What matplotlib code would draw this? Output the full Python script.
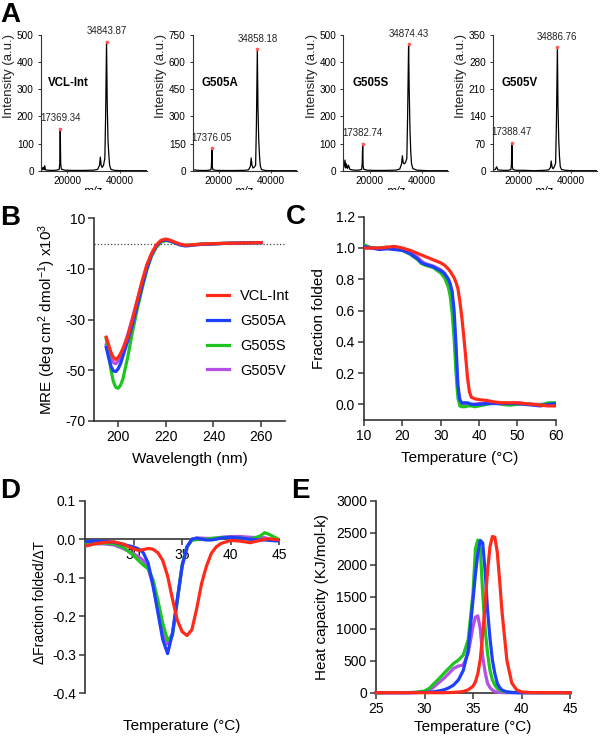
import numpy as np
import matplotlib.pyplot as plt
from matplotlib.transforms import Bbox, TransformedBbox

plt.rcParams['font.family'] = ['Liberation Sans', 'DejaVu Sans']
plt.rcParams['mathtext.fontset'] = 'custom'
plt.rcParams['mathtext.rm'] = 'Liberation Sans'
plt.rcParams['mathtext.it'] = 'Liberation Sans:italic'
plt.rcParams['mathtext.bf'] = 'Liberation Sans:bold'
plt.rcParams['axes.unicode_minus'] = False

# ---- A: mass spectra ----
names = ['VCL-Int', 'G505A', 'G505S', 'G505V']
ymax_A = [500, 750, 500, 350]
ystep_A = [100, 150, 100, 70]

mz_vcl = [10000, 10300, 10500, 10700, 11000, 11300, 11500, 11800, 12500, 14000, 16000, 17000, 17200, 17369,
          17550, 17800, 19000, 22000, 26000, 30000, 31500, 32200, 32500, 32800, 33200, 33700, 34200, 34500,
          34843, 35100, 35400, 35700, 36000, 36500, 38000, 42000, 46000, 50000]
int_vcl = [5, 15, 3, 8, 12, 4, 18, 3, 2, 1, 2, 5, 30, 155, 25, 6, 2, 1, 1, 2, 5, 20, 50, 20, 12, 20, 45, 200,
           475, 250, 110, 60, 20, 5, 1, 0, 0, 0]
mz_a = [10000, 10500, 11000, 11500, 12500, 14000, 16000, 17000, 17200, 17376, 17550, 17800, 19000, 22000,
        26000, 30000, 31500, 32200, 32500, 32800, 33200, 33700, 34200, 34500, 34858, 35100, 35400, 35700,
        36000, 36500, 38000, 42000, 46000, 50000]
int_a = [6, 3, 5, 2, 2, 1, 2, 5, 25, 123, 20, 5, 2, 1, 1, 2, 5, 25, 70, 30, 15, 20, 30, 250, 669, 350, 170,
         80, 25, 6, 1, 0, 0, 0]
mz_s = [10000, 10300, 10640, 10900, 11200, 11600, 12000, 12500, 14000, 16000, 17000, 17200, 17382, 17550,
        17800, 19000, 22000, 26000, 30000, 31500, 32200, 32500, 32800, 33200, 33700, 34200, 34500, 34874,
        35100, 35400, 35700, 36000, 36500, 38000, 42000, 46000, 50000]
int_s = [8, 15, 39, 10, 25, 8, 20, 5, 2, 2, 5, 25, 100, 18, 5, 2, 1, 1, 2, 6, 25, 55, 30, 25, 30, 45, 200, 465,
         300, 150, 70, 25, 8, 2, 0, 0, 0]
mz_v = [10000, 11000, 11500, 12000, 14000, 16000, 17000, 17200, 17388, 17550, 17800, 19000, 22000, 26000,
        30000, 31500, 32200, 32500, 32800, 33200, 33700, 34200, 34500, 34886, 35100, 35400, 35700, 36000,
        36500, 38000, 42000, 46000, 50000]
int_v = [2, 3, 10, 2, 1, 1, 3, 15, 72, 12, 3, 1, 1, 0, 1, 2, 8, 25, 10, 5, 10, 20, 120, 318, 170, 80, 35, 10,
         3, 1, 0, 0, 0]
peak_mz = [[17369.34, 34843.87], [17376.05, 34858.18], [17382.74, 34874.43], [17388.47, 34886.76]]
peak_int = [[155, 475], [123, 669], [100, 465], [72, 318]]
spectra = [(mz_vcl, int_vcl), (mz_a, int_a), (mz_s, int_s), (mz_v, int_v)]

# ---- B: CD spectra ----
wl = [195, 196, 197, 198, 199, 200, 201, 202, 204, 206, 208, 210, 212, 214, 216, 218, 220, 222, 224, 226,
      228, 230, 232, 235, 240, 245, 250, 255, 260]
mre_vcl = [-37, -40, -43, -45, -45.8, -45, -43.5, -41.5, -37, -30, -22.5, -15, -8.5, -4, -0.5, 1.3, 1.8, 1.3,
           0.5, -0.2, -0.6, -0.6, -0.4, -0.2, 0, 0.1, 0.2, 0.3, 0.4]
mre_a = [-41, -45, -48.5, -50.3, -50.6, -49.5, -47.5, -44.5, -38.5, -32, -24.5, -17, -10, -4.5, -1, 1, 1.4, 1,
         0.2, -0.5, -0.9, -0.8, -0.5, -0.3, -0.1, 0.1, 0.2, 0.3, 0.4]
mre_s = [-37.5, -44, -50, -54.5, -56.8, -57.2, -56, -53.5, -45, -35, -26, -18, -10.5, -5, -1.5, 0.6, 1.2, 0.9,
         0.2, -0.4, -0.7, -0.6, -0.4, -0.2, 0, 0.1, 0.2, 0.3, 0.4]
mre_v = [-40, -43, -45.5, -47, -47.5, -46.5, -44.5, -42, -36, -29.5, -22.5, -15.5, -9, -4, -0.8, 1.1, 1.5,
         1.1, 0.3, -0.4, -0.8, -0.7, -0.5, -0.3, -0.1, 0.1, 0.2, 0.3, 0.4]

# ---- C: thermal melt ----
temp_c = [10, 12, 14, 16, 18, 20, 22, 24, 25, 26, 28, 30, 31, 32, 32.5, 33, 33.5, 34, 34.5, 35, 35.5, 36,
          36.5, 37, 37.5, 38, 39, 40, 42, 44, 46, 48, 50, 52, 54, 56, 58, 60]
ff_vcl = [1.0, 1.0, 1.0, 1.005, 1.01, 1.0, 0.985, 0.965, 0.955, 0.945, 0.925, 0.905, 0.89, 0.865, 0.85, 0.83,
          0.81, 0.78, 0.74, 0.66, 0.56, 0.44, 0.31, 0.17, 0.08, 0.045, 0.035, 0.03, 0.025, 0.015, 0.01, 0.01,
          0.01, 0.005, 0.0, -0.005, -0.01, -0.01]
ff_a = [1.01, 1.0, 0.99, 0.995, 0.99, 0.985, 0.965, 0.93, 0.905, 0.895, 0.88, 0.855, 0.835, 0.8, 0.77, 0.72,
        0.6, 0.38, 0.12, 0.03, 0.01, 0.01, 0.01, 0.01, 0.005, 0.0, 0.0, 0.0, 0.005, 0.005, 0.005, 0.005, 0.005,
        0.0, -0.005, -0.01, 0.0, 0.005]
ff_s = [1.02, 1.0, 1.0, 1.005, 0.995, 0.985, 0.96, 0.925, 0.9, 0.89, 0.875, 0.84, 0.81, 0.75, 0.69, 0.58,
        0.42, 0.2, 0.04, -0.01, -0.015, -0.015, -0.015, -0.01, -0.01, -0.01, -0.015, -0.01, 0.0, 0.01, 0.0,
        -0.005, 0.0, 0.005, 0.0, -0.005, 0.01, 0.01]
ff_v = [1.0, 1.0, 0.995, 1.0, 0.995, 0.985, 0.975, 0.94, 0.915, 0.9, 0.885, 0.86, 0.84, 0.8, 0.76, 0.68,
        0.52, 0.3, 0.08, 0.01, 0.0, 0.0, 0.005, 0.005, 0.005, 0.0, 0.0, 0.005, 0.005, 0.01, 0.01, 0.005, 0.01,
        0.005, 0.0, 0.0, 0.0, 0.0]

# ---- D: derivative ----
temp_d = [25, 26, 27, 28, 29, 29.5, 30, 30.5, 31, 31.5, 32, 32.5, 33, 33.5, 34, 34.5, 35, 35.5, 36, 36.5,
          37, 37.5, 38, 38.5, 39, 40, 41, 42, 43, 43.5, 44, 45]
d_vcl = [-0.018, -0.012, -0.008, -0.007, -0.013, -0.02, -0.025, -0.029, -0.027, -0.024, -0.026, -0.035,
         -0.055, -0.095, -0.155, -0.21, -0.24, -0.25, -0.235, -0.18, -0.115, -0.07, -0.037, -0.02, -0.011,
         -0.003, -0.005, -0.009, -0.003, 0.0, 0.001, -0.002]
d_a = [-0.006, -0.005, -0.005, -0.008, -0.014, -0.017, -0.02, -0.025, -0.035, -0.062, -0.12, -0.19, -0.26,
       -0.297, -0.245, -0.155, -0.07, -0.02, 0.0, 0.003, 0.0, -0.002, -0.002, 0.0, 0.003, 0.005, 0.003, 0.0,
       -0.002, -0.002, -0.003, -0.005]
d_s = [-0.01, -0.01, -0.01, -0.012, -0.022, -0.032, -0.042, -0.055, -0.067, -0.077, -0.105, -0.158, -0.218,
       -0.262, -0.25, -0.16, -0.065, -0.02, -0.003, -0.001, 0.0, 0.0, 0.002, 0.003, 0.004, 0.005, 0.003, 0.0,
       0.008, 0.017, 0.012, -0.001]
d_v = [-0.012, -0.012, -0.012, -0.015, -0.025, -0.032, -0.038, -0.045, -0.055, -0.075, -0.12, -0.18, -0.24,
       -0.272, -0.245, -0.16, -0.07, -0.02, 0.0, 0.003, 0.003, 0.002, 0.002, 0.003, 0.005, 0.007, 0.007, 0.005,
       0.004, 0.004, 0.0, -0.003]

# ---- E: heat capacity ----
temp_e = [25, 28, 29, 30, 30.5, 31, 31.5, 32, 32.5, 33, 33.5, 34, 34.5, 35, 35.25, 35.5, 35.75, 36, 36.25,
          36.5, 36.75, 37, 37.25, 37.5, 37.75, 38, 38.5, 39, 39.5, 40, 41, 45]
cp_vcl = [0, 0, 0, 0, 0, 0, 0, 0, 2, 5, 10, 20, 45, 100, 170, 300, 520, 900, 1400, 1900, 2280, 2440, 2430,
          2200, 1750, 1250, 500, 150, 45, 12, 2, 0]
cp_a = [0, 0, 2, 5, 8, 16, 28, 45, 75, 120, 200, 350, 660, 1450, 1850, 2180, 2380, 2340, 1900, 1290, 850, 510,
        300, 150, 80, 40, 12, 4, 1, 0, 0, 0]
cp_s = [0, 2, 5, 26, 70, 146, 220, 302, 380, 458, 510, 589, 823, 1552, 2250, 2385, 2250, 1552, 1000, 615, 350,
        198, 120, 68, 40, 25, 10, 5, 3, 2, 0, 0]
cp_v = [0, 0, 2, 10, 40, 94, 160, 224, 300, 380, 417, 432, 615, 1031, 1180, 1200, 1000, 563, 320, 146, 80, 42,
        20, 10, 5, 2, 0, 0, 0, 0, 0, 0]

colors = {'VCL-Int': '#ff2a1a', 'G505A': '#1f3fff', 'G505S': '#1fc41f', 'G505V': '#b44fe8'}
draw_order = ['G505V', 'G505S', 'G505A', 'VCL-Int']

W, H = 600, 738
fig = plt.figure(figsize=(6, 7.38), dpi=100, facecolor='white')


def box(l, t, r, b):
    return [l / W, 1 - b / H, (r - l) / W, (b - t) / H]


def style(ax, lw=1.2, tl=4, fs=10):
    for s in ['top', 'right']:
        ax.spines[s].set_visible(False)
    for s in ['left', 'bottom']:
        ax.spines[s].set_linewidth(lw)
        ax.spines[s].set_color('#333333')
    ax.tick_params(direction='out', length=tl, width=lw * 0.9, color='#333333', labelsize=fs, pad=2.5)


# panel A
a_boxes = [(40.7, 34.7, 146.7, 170.7), (192.7, 34.7, 296.7, 170.7),
           (343.3, 34.7, 448.3, 170.7), (492.7, 34.7, 596.7, 170.7)]
for i in range(4):
    ax = fig.add_axes(box(*a_boxes[i]))
    mz, inten = spectra[i]
    ax.plot(mz, inten, color='black', lw=0.9)
    for m, h in zip(peak_mz[i], peak_int[i]):
        ax.plot(m, h, 'o', ms=2.6, color='#ff5a5a', mec='none', zorder=4, clip_on=False)
        ax.annotate(f'{m:.2f}', (m, h), xytext=(0, 4), textcoords='offset points', ha='center',
                    va='bottom', fontsize=7, color='#222222', annotation_clip=False)
    ax.set_xlim(10000, 50000)
    ax.set_ylim(0, ymax_A[i])
    ax.set_xticks([20000, 40000])
    ax.set_yticks(np.arange(0, ymax_A[i] + 1, ystep_A[i]))
    style(ax, lw=0.8, tl=2.5, fs=7.2)
    ax.tick_params(axis='x', length=1.5)
    ax.set_ylabel('Intensity (a.u.)', fontsize=9.5, color='#222222')
    ax.yaxis.set_label_coords(-0.245, 0.70)
    ax.text(0.26, 0.643, names[i], transform=ax.transAxes, ha='center', va='center',
            fontsize=8.3, fontweight='bold')
    cx = (a_boxes[i][0] + a_boxes[i][2]) / 2
    t = fig.text(cx / W, 1 - 186.0 / H, 'm/z', style='italic', ha='center', va='top', fontsize=8.5)
    t.set_clip_box(TransformedBbox(Bbox([[0, 1 - 190.0 / H], [1, 1]]), fig.transFigure))
    t.set_clip_on(True)

# panel B
axB = fig.add_axes(box(94.3, 218.3, 285, 420.7))
mre = {'VCL-Int': mre_vcl, 'G505A': mre_a, 'G505S': mre_s, 'G505V': mre_v}
handles = {}
axB.axhline(0, ls=':', color='#444444', lw=0.9, zorder=1)
for n in draw_order:
    handles[n], = axB.plot(wl, mre[n], color=colors[n], lw=2.3, label=n, zorder=3)
axB.set_xlim(190, 270)
axB.set_ylim(-70, 10)
axB.set_xticks([200, 220, 240, 260])
axB.set_yticks([10, -10, -30, -50, -70])
style(axB)
axB.set_xlabel('Wavelength (nm)', fontsize=11, labelpad=6)
axB.set_ylabel('MRE (deg cm$^2$ dmol$^{-1}$) x10$^3$', fontsize=11)
axB.yaxis.set_label_coords(-0.19, 0.5)
axB.legend([handles[n] for n in names], names, loc='upper left', bbox_to_anchor=(0.59, 0.65),
           frameon=False, fontsize=10.5, handlelength=1.55, handletextpad=0.75, labelspacing=0.74,
           borderpad=0, borderaxespad=0)

# panel C
axC = fig.add_axes(box(364, 216.7, 555.7, 420))
ff = {'VCL-Int': ff_vcl, 'G505A': ff_a, 'G505S': ff_s, 'G505V': ff_v}
for n in draw_order:
    axC.plot(temp_c, ff[n], color=colors[n], lw=2.3, zorder=3)
axC.set_xlim(10, 60)
axC.set_ylim(-0.1, 1.2)
axC.set_xticks([10, 20, 30, 40, 50, 60])
axC.set_yticks([0.0, 0.2, 0.4, 0.6, 0.8, 1.0, 1.2])
axC.yaxis.set_major_formatter(plt.FormatStrFormatter('%.1f'))
style(axC)
axC.set_xlabel('Temperature (°C)', fontsize=11, labelpad=6)
axC.set_ylabel('Fraction folded', fontsize=11)
axC.yaxis.set_label_coords(-0.2, 0.5)

# panel D
axD = fig.add_axes(box(85, 500.7, 279.3, 693.3))
dd = {'VCL-Int': d_vcl, 'G505A': d_a, 'G505S': d_s, 'G505V': d_v}
for n in draw_order:
    axD.plot(temp_d, dd[n], color=colors[n], lw=2.3, zorder=3)
axD.set_xlim(25, 45)
axD.set_ylim(-0.4, 0.1)
axD.set_xticks([30, 35, 40, 45])
axD.set_yticks([0.1, 0.0, -0.1, -0.2, -0.3, -0.4])
axD.yaxis.set_major_formatter(plt.FormatStrFormatter('%.1f'))
style(axD)
axD.spines['bottom'].set_position(('data', 0))
axD.set_xlabel('Temperature (°C)', fontsize=11)
axD.xaxis.set_label_coords(0.5, -0.135)
axD.set_ylabel('ΔFraction folded/ΔT', fontsize=10)
axD.yaxis.set_label_coords(-0.197, 0.47)

# panel E
axE = fig.add_axes(box(376, 500.7, 570, 692.7))
cp = {'VCL-Int': cp_vcl, 'G505A': cp_a, 'G505S': cp_s, 'G505V': cp_v}
for n in draw_order:
    axE.plot(temp_e, cp[n], color=colors[n], lw=2.3, zorder=3, clip_on=False)
axE.set_xlim(25, 45)
axE.set_ylim(0, 3000)
axE.set_xticks([25, 30, 35, 40, 45])
axE.set_yticks(np.arange(0, 3001, 500))
style(axE)
axE.set_xlabel('Temperature (°C)', fontsize=11, labelpad=3)
axE.set_ylabel('Heat capacity (KJ/mol-k)', fontsize=11)
axE.yaxis.set_label_coords(-0.241, 0.5)

# panel letters
for lab, x, y in [('A', 0, 21.7), ('B', 0, 225), ('C', 286, 224), ('D', 0, 498.3), ('E', 291, 498.3)]:
    fig.text(x / W, 1 - y / H, lab, fontsize=20, fontweight='bold', ha='left', va='baseline')

plt.savefig('out.png', dpi=100, facecolor='white')
